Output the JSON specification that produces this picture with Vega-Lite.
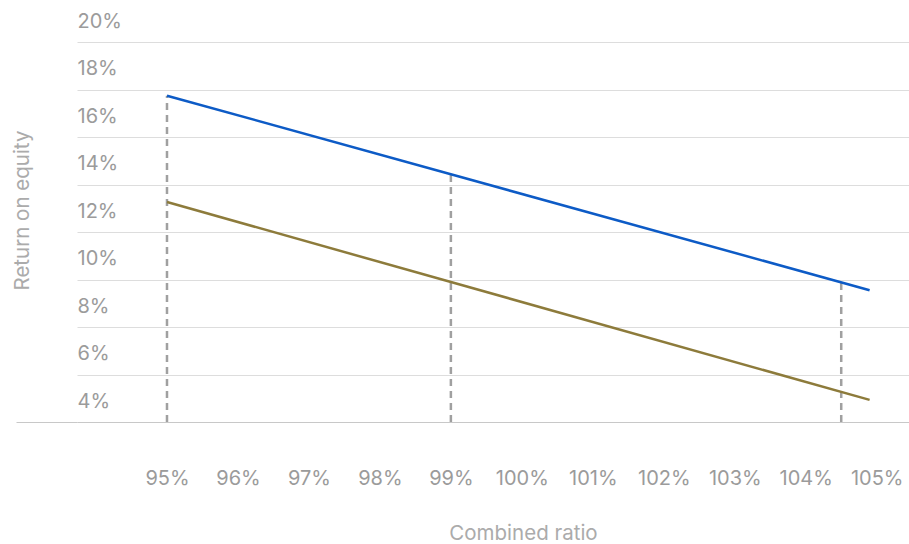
{
  "$schema": "https://vega.github.io/schema/vega-lite/v6.json",
  "autosize": {"type": "none"},
  "padding": {"left": 77, "top": 42, "right": 0, "bottom": 122},
  "width": 832,
  "height": 380,
  "background": "white",
  "config": {
    "view": {"stroke": null},
    "font": "Inter",
    "axis": {
      "labelFont": "Inter",
      "titleFont": "Inter",
      "labelFontSize": 20,
      "titleFontSize": 20.5,
      "labelColor": "#9b9b9b",
      "titleColor": "#ababab",
      "labelFontWeight": "normal",
      "titleFontWeight": "normal"
    }
  },
  "datasets": {
    "roe": [
      {"series": "upper", "ratio": 95, "roe": 17.74},
      {"series": "upper", "ratio": 104.9, "roe": 9.55},
      {"series": "lower", "ratio": 95, "roe": 13.26},
      {"series": "lower", "ratio": 104.9, "roe": 4.93}
    ],
    "markers": [
      {"ratio": 95, "base": 4, "roe": 17.74},
      {"ratio": 99, "base": 4, "roe": 14.43},
      {"ratio": 104.5, "base": 4, "roe": 9.88}
    ]
  },
  "layer": [
    {
      "data": {"name": "markers"},
      "mark": {"type": "rule", "stroke": "#a0a0a0", "strokeWidth": 2.5, "strokeDash": [7, 5]},
      "encoding": {
        "x": {
          "field": "ratio",
          "type": "quantitative",
          "scale": {"domain": [93.732, 105.455], "nice": false, "zero": false},
          "axis": {
            "values": [95, 96, 97, 98, 99, 100, 101, 102, 103, 104, 105],
            "labelExpr": "datum.value + '%'",
            "grid": false,
            "ticks": false,
            "domain": true,
            "domainColor": "#c8c8c8",
            "domainWidth": 1,
            "labelPadding": 62,
            "labelBaseline": "alphabetic",
            "labelFlush": false,
            "title": "Combined ratio",
            "titleX": 446,
            "titleY": 117,
            "titleAnchor": null,
            "titleAlign": "center",
            "titleBaseline": "alphabetic"
          }
        },
        "y": {
          "field": "base",
          "type": "quantitative",
          "scale": {"domain": [4, 20], "nice": false, "zero": false},
          "axis": {
            "values": [4, 6, 8, 10, 12, 14, 16, 18, 20],
            "labelExpr": "datum.value + '%'",
            "grid": true,
            "gridColor": "#dddddd",
            "gridWidth": 1,
            "domain": false,
            "ticks": true,
            "tickSize": 61,
            "tickWidth": 1,
            "tickColor": {"condition": {"test": "datum.value == 4", "value": "#c8c8c8"}, "value": "rgba(0,0,0,0)"},
            "labelAlign": "left",
            "labelPadding": -61,
            "labelBaseline": "alphabetic",
            "labelOffset": -15,
            "labelFlush": false,
            "title": "Return on equity",
            "titleX": -48.5,
            "titleY": 168,
            "titleAngle": 270,
            "titleAnchor": null,
            "titleAlign": "center",
            "titleBaseline": "alphabetic"
          }
        },
        "y2": {"field": "roe"}
      }
    },
    {
      "data": {"name": "roe"},
      "mark": {"type": "line", "strokeWidth": 2.5},
      "encoding": {
        "x": {"field": "ratio", "type": "quantitative"},
        "y": {"field": "roe", "type": "quantitative"},
        "color": {
          "field": "series",
          "type": "nominal",
          "scale": {"domain": ["upper", "lower"], "range": ["#0d5bc6", "#8d7b3b"]},
          "legend": null
        }
      }
    }
  ]
}
